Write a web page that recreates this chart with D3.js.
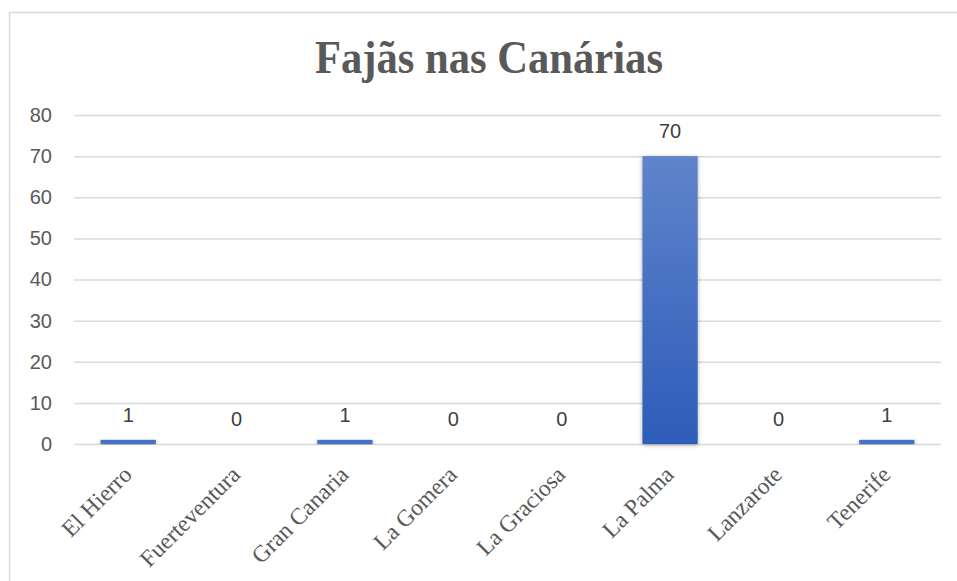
<!DOCTYPE html>
<html><head><meta charset="utf-8">
<script src="https://cdn.jsdelivr.net/npm/d3@7"></script>
<style>body{margin:0;background:#fff;}svg{display:block;}</style>
</head><body>
<svg id="c" width="957" height="581"></svg>
<script>
const categories = ["El Hierro","Fuerteventura","Gran Canaria","La Gomera","La Graciosa","La Palma","Lanzarote","Tenerife"];
const values = [1,0,1,0,0,70,0,1];
const yTicks = [0,10,20,30,40,50,60,70,80];
const title = "Fajãs nas Canárias";

const svg = d3.select("#c");
const W = 957, H = 581;
const m = {left:74, right:16, top:115, bottom:137};
const x = d3.scaleBand().domain(categories).range([m.left, W - m.right]).paddingInner(0.49).paddingOuter(0.245);
const y = d3.scaleLinear().domain([0,80]).range([H - m.bottom, m.top]);

const defs = svg.append("defs");
const g = defs.append("linearGradient").attr("id","bg").attr("x1",0).attr("y1",0).attr("x2",0).attr("y2",1);
g.append("stop").attr("offset","0%").attr("stop-color","#5f84cb");
g.append("stop").attr("offset","100%").attr("stop-color","#2d5cb9");
const f = defs.append("filter").attr("id","sh").attr("x","-30%").attr("y","-10%").attr("width","160%").attr("height","130%");
f.append("feDropShadow").attr("dx",0).attr("dy",1).attr("stdDeviation",2.2).attr("flood-color","#000").attr("flood-opacity",0.35);

// chart border
svg.append("path").attr("d",`M9.5,${H} L9.5,12.5 L${W},12.5`).attr("fill","none").attr("stroke","#d9d9d9").attr("stroke-width",1.5);

// title
svg.append("text").attr("x",489).attr("y",73).attr("text-anchor","middle")
  .attr("font-family","'Liberation Serif','Times New Roman',serif").attr("font-weight","bold")
  .attr("font-size",46).attr("fill","#595959")
  .attr("textLength",348).attr("lengthAdjust","spacingAndGlyphs").text(title);

// gridlines
const yAxis = d3.axisLeft(y).tickValues(yTicks).tickSize(-(W - m.right - m.left)).tickPadding(22);
const ga = svg.append("g").attr("transform",`translate(${m.left},0)`).call(yAxis);
ga.select(".domain").remove();
ga.selectAll(".tick line").attr("stroke","#d9d9d9").attr("stroke-width",1.5);
ga.selectAll(".tick text").attr("font-family","'Liberation Sans',Arial,sans-serif").attr("font-size",20).attr("fill","#595959");

// bars
svg.append("g").selectAll("rect").data(values).join("rect")
  .attr("x",(d,i)=>x(categories[i])).attr("width",x.bandwidth())
  .attr("y",d=>y(d)).attr("height",d=>y(0)-y(d))
  .attr("filter","url(#sh)")
  .attr("fill", d => d > 5 ? "url(#bg)" : "#4472c4");

// data labels
svg.append("g").selectAll("text").data(values).join("text")
  .attr("x",(d,i)=>x(categories[i]) + x.bandwidth()/2)
  .attr("y",d=>y(d) - 18).attr("text-anchor","middle")
  .attr("font-family","'Liberation Sans',Arial,sans-serif").attr("font-size",20).attr("fill","#404040")
  .text(d=>d);

// x labels
const xAxis = d3.axisBottom(x).tickSize(0);
const gx = svg.append("g").attr("transform",`translate(0,${y(0)})`).call(xAxis);
gx.select(".domain").remove();
gx.selectAll(".tick text")
  .attr("font-family","'Liberation Serif','Times New Roman',serif").attr("font-size",23.5).attr("fill","#595959")
  .attr("text-anchor","end").attr("dy",null).attr("y",null)
  .attr("transform","translate(5,32) rotate(-45)");
</script>
</body></html>
